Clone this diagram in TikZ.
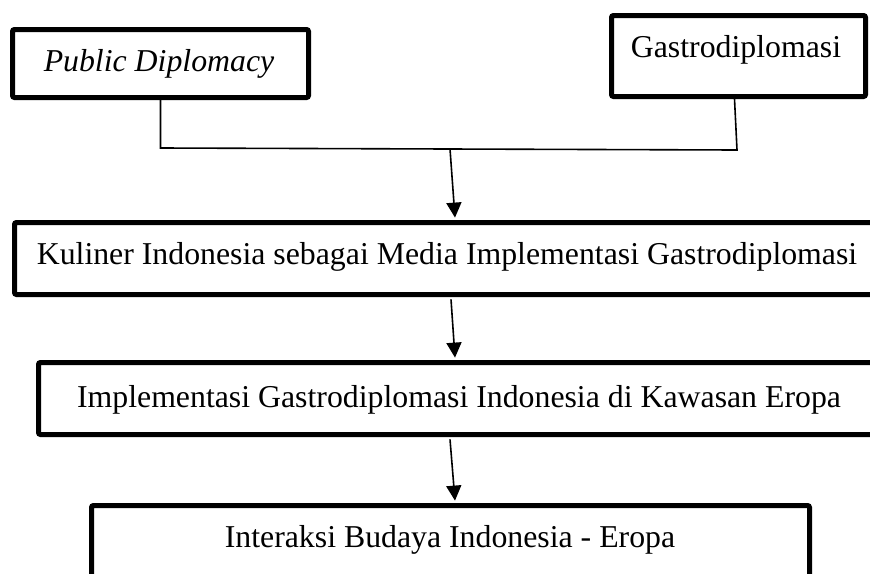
\documentclass[tikz,border=0pt]{standalone}
\usepackage{fontspec}
\setmainfont{Liberation Serif}
\usetikzlibrary{arrows.meta}
\begin{document}
\begin{tikzpicture}[x={(0.5pt,0)},y={(0,-0.5pt)},
  box/.style={draw=black,line width=2.5pt,rounded corners=1pt,inner sep=0pt,fill=white},
  lbl/.style={inner sep=0pt,font=\fontsize{15.9pt}{18pt}\selectfont},
  conn/.style={draw=black,line width=0.8pt},
  arr/.style={conn,-{Triangle[width=7.5pt,length=7.5pt]}}]
\useasboundingbox (0,0) rectangle (870,573);
\clip (0,0) rectangle (870,573);
% boxes
\node[box,minimum width=148pt,minimum height=34pt] (pd) at (160.5,63.5) {};
\node[box,minimum width=127pt,minimum height=40.5pt] (gas) at (738.5,56) {};
\node[box,minimum width=432.5pt,minimum height=36pt] (kul) at (447,258.5) {};
\node[box,minimum width=419.5pt,minimum height=36pt] (imp) at (458,398.5) {};
\node[box,minimum width=359pt,minimum height=41pt] (int) at (450.5,546.5) {};
% texts
\node[lbl] (pdt) at (159,63.5) {\itshape Public Diplomacy};
\node[lbl] (gast) at (736,50) {Gastrodiplomasi};
\node[lbl] (kult) at (447,257) {Kuliner Indonesia sebagai Media Implementasi Gastrodiplomasi};
\node[lbl] (impt) at (459,400) {Implementasi Gastrodiplomasi Indonesia di Kawasan Eropa};
\node[lbl] (intt) at (450,540) {Interaksi Budaya Indonesia - Eropa};
% connectors
\coordinate (jl) at (160.5,148);
\coordinate (jr) at (737,150);
\coordinate (jm) at (450,149);
\draw[conn] (pd.south) -- (jl) -- (jr) -- ([xshift=-2pt]gas.south);
\draw[arr] (jm) -- ([xshift=4pt,yshift=1.2pt]kul.north);
\draw[arr] ([xshift=2pt,yshift=-1.2pt]kul.south) -- ([xshift=-1.5pt,yshift=1.2pt]imp.north);
\draw[arr] ([xshift=-4pt,yshift=-1.2pt]imp.south) -- ([xshift=2.25pt,yshift=1.2pt]int.north);
\end{tikzpicture}
\end{document}
